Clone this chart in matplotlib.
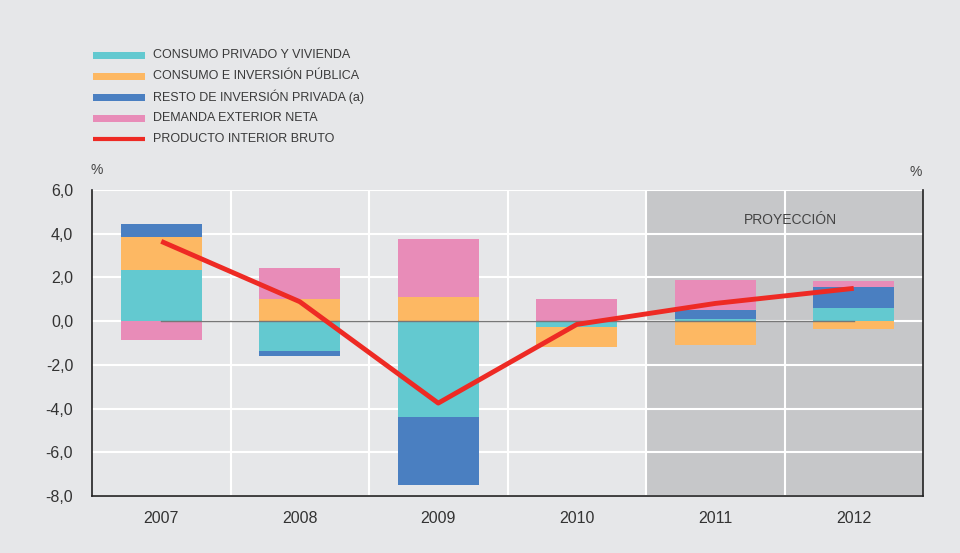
import matplotlib
matplotlib.use("Agg")
import matplotlib.pyplot as plt
from matplotlib.patches import Rectangle
from matplotlib.lines import Line2D
import numpy as np

years = ["2007", "2008", "2009", "2010", "2011", "2012"]
consumo_privado = [2.35, -1.35, -4.40, -0.28, 0.08, 0.58]
consumo_publico = [1.50, 1.00, 1.10, -0.90, -1.07, -0.35]
resto_inversion = [0.60, -0.25, -3.10, 0.00, 0.45, 0.98]
demanda_exterior = [-0.85, 1.45, 2.65, 1.03, 1.37, 0.28]
pib = [3.65, 0.89, -3.75, -0.15, 0.81, 1.50]
yticks = [-8, -6, -4, -2, 0, 2, 4, 6]

series = [
    ("CONSUMO PRIVADO Y VIVIENDA", consumo_privado, "#63c9d0"),
    ("CONSUMO E INVERSIÓN PÚBLICA", consumo_publico, "#fdb863"),
    ("RESTO DE INVERSIÓN PRIVADA (a)", resto_inversion, "#4a7fc1"),
    ("DEMANDA EXTERIOR NETA", demanda_exterior, "#e88cb8"),
]
pib_label = "PRODUCTO INTERIOR BRUTO"
red = "#ee2a24"

plt.rcParams['font.family'] = ['Liberation Sans', 'DejaVu Sans']
bg = "#e6e7e9"
W, H = 960, 553
fig = plt.figure(figsize=(9.6, 5.53), dpi=100, facecolor=bg)
ax = fig.add_axes([92/W, 1-496/H, (923-92)/W, (496-190)/H])
ax.set_facecolor(bg)

x = np.arange(len(years))
ax.axvspan(3.5, 5.5, color="#c6c7c9", zorder=0, lw=0)
for yv in yticks:
    ax.axhline(yv, color="white", lw=1.5, zorder=1)
for xv in [0.5, 1.5, 2.5, 3.5, 4.5]:
    ax.axvline(xv, color="white", lw=1.5, zorder=1)

pos = np.zeros(len(years))
neg = np.zeros(len(years))
for name, vals, col in series:
    vals = np.array(vals)
    bottoms = np.where(vals >= 0, pos, neg)
    ax.bar(x, vals, width=0.585, bottom=bottoms, color=col, zorder=2, lw=0, label=name)
    pos = pos + np.where(vals >= 0, vals, 0)
    neg = neg + np.where(vals < 0, vals, 0)

ax.plot([x[0], x[-1]], [0, 0], color="#777777", lw=1, zorder=3)
ax.plot(x, pib, color=red, lw=3.5, zorder=4, solid_capstyle="butt", label=pib_label)

ax.set_xlim(-0.5, 5.5)
ax.set_ylim(-8, 6)
ax.set_yticks(yticks)
ax.set_yticklabels([f"{v:.1f}".replace(".", ",") for v in yticks], fontsize=11.5, color="#333333")
ax.set_xticks(x)
ax.set_xticklabels(years, fontsize=11.5, color="#333333")
ax.tick_params(length=0)
ax.tick_params(axis="x", pad=11)
ax.tick_params(axis="y", pad=13.5)
ax.spines["top"].set_visible(False)
for s in ["left", "bottom", "right"]:
    ax.spines[s].set_color("#222222")
    ax.spines[s].set_linewidth(1.2)

ax.text(4.54, 4.65, "PROYECCIÓN", ha="center", va="center", fontsize=10, color="#444444", zorder=5)

fig.text(97/W, 1-170/H, "%", ha="center", va="center", fontsize=10, color="#444444")
fig.text(916/W, 1-172/H, "%", ha="center", va="center", fontsize=10, color="#444444")

# manual legend with even row spacing
labels = [s[0] for s in series] + [pib_label]
colors = [s[2] for s in series]
row_y = [55, 76, 97, 118, 139]
for i, lab in enumerate(labels):
    yc = row_y[i]
    if i < len(colors):
        fig.add_artist(Rectangle((93/W, 1-(yc+3.5)/H), 52/W, 7/H, transform=fig.transFigure,
                                 color=colors[i], lw=0))
    else:
        fig.add_artist(Line2D([93/W, 145/W], [1-yc/H, 1-yc/H], transform=fig.transFigure,
                              color=red, lw=3, solid_capstyle="butt"))
    fig.text(153/W, 1-yc/H, lab, ha="left", va="center", fontsize=9, color="#3a3a3a")

fig.savefig("out.png", dpi=100, facecolor=bg)
